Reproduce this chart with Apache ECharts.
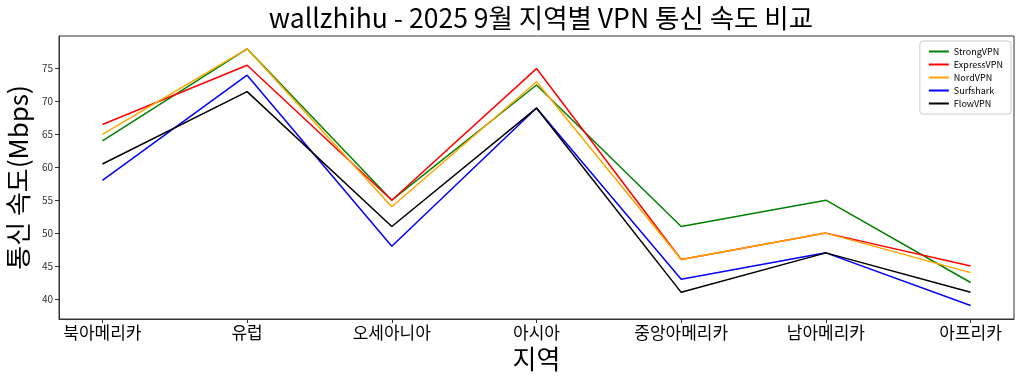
<!DOCTYPE html>
<html><head><meta charset="utf-8">
<script src="https://cdn.jsdelivr.net/npm/echarts@6/dist/echarts.min.js"></script>
<style>html,body{margin:0;padding:0;background:#fff}#c{width:1024px;height:384px}</style>
</head><body><div id="c"></div>
<script>
const categories = ['북아메리카','유럽','오세아니아','아시아','중앙아메리카','남아메리카','아프리카'];
const strongVPN  = [64, 78, 55, 72.5, 51, 55, 42.5];
const expressVPN = [66.5, 75.5, 55, 75, 46, 50, 45];
const nordVPN    = [65, 78, 54, 73, 46, 50, 44];
const surfshark  = [58, 74, 48, 69, 43, 47, 39];
const flowVPN    = [60.5, 71.5, 51, 69, 41, 47, 41];
const yTicks = [40, 45, 50, 55, 60, 65, 70, 75];
const seriesNames = ['StrongVPN','ExpressVPN','NordVPN','Surfshark','FlowVPN'];
const seriesData = [strongVPN, expressVPN, nordVPN, surfshark, flowVPN];
const colors = ['#008000','#ff0000','#ffa500','#0000ff','#000000'];
const xIdx = categories.map((_, i) => i);

const font = '"Noto Sans CJK KR", "DejaVu Sans", sans-serif';
const chart = echarts.init(document.getElementById('c'), null, {renderer:'canvas'});
chart.setOption({
  animation:false,
  backgroundColor:'#fff',
  title:{text:'wallzhihu - 2025 9월 지역별 VPN 통신 속도 비교', left:536, textAlign:'center', top:0,
    textStyle:{fontFamily:font, fontSize:26.5, fontWeight:'normal', color:'#000'}},
  grid:{left:59, right:10, top:36, bottom:65, outerBoundsMode:'none', containLabel:false,
    show:true, borderColor:'#333', borderWidth:1, backgroundColor:'transparent'},
  legend:{orient:'vertical', right:13, top:41, itemWidth:20, itemHeight:2, itemGap:4, icon:'rect',
    borderColor:'#ccc', borderWidth:1, borderRadius:3, padding:[6,8,6,9], backgroundColor:'#fff',
    textStyle:{fontFamily:font, fontSize:9, color:'#000'}, data:seriesNames},
  xAxis:{type:'value', min:-0.3, max:6.3,
    name:'지역', nameLocation:'middle', nameGap:27, nameTextStyle:{fontFamily:font, fontSize:26, color:'#000'},
    axisLine:{onZero:false, lineStyle:{color:'#333'}}, axisTick:{length:4, lineStyle:{color:'#333'}, customValues:xIdx},
    axisLabel:{fontFamily:font, fontSize:17, color:'#000', margin:5, customValues:xIdx,
      formatter:v=> categories[Math.round(v)] || ''}, splitLine:{show:false}},
  yAxis:{type:'value', min:36.95, max:79.95,
    name:'통신 속도(Mbps)', nameLocation:'middle', nameGap:24, nameTextStyle:{fontFamily:font, fontSize:26, color:'#000'},
    axisLine:{show:true, onZero:false, lineStyle:{color:'#333'}}, axisTick:{show:true, length:4, lineStyle:{color:'#333'}, customValues:yTicks},
    axisLabel:{fontFamily:font, fontSize:10, color:'#333', margin:6, customValues:yTicks,
      formatter:v=> String(v)},
    splitLine:{show:false}},
  series: seriesNames.map((n,i)=>({name:n, type:'line', data:seriesData[i].map((v,j)=>[xIdx[j], v]), symbol:'none',
    lineStyle:{color:colors[i], width:1.5}, itemStyle:{color:colors[i]}}))
});
</script></body></html>
